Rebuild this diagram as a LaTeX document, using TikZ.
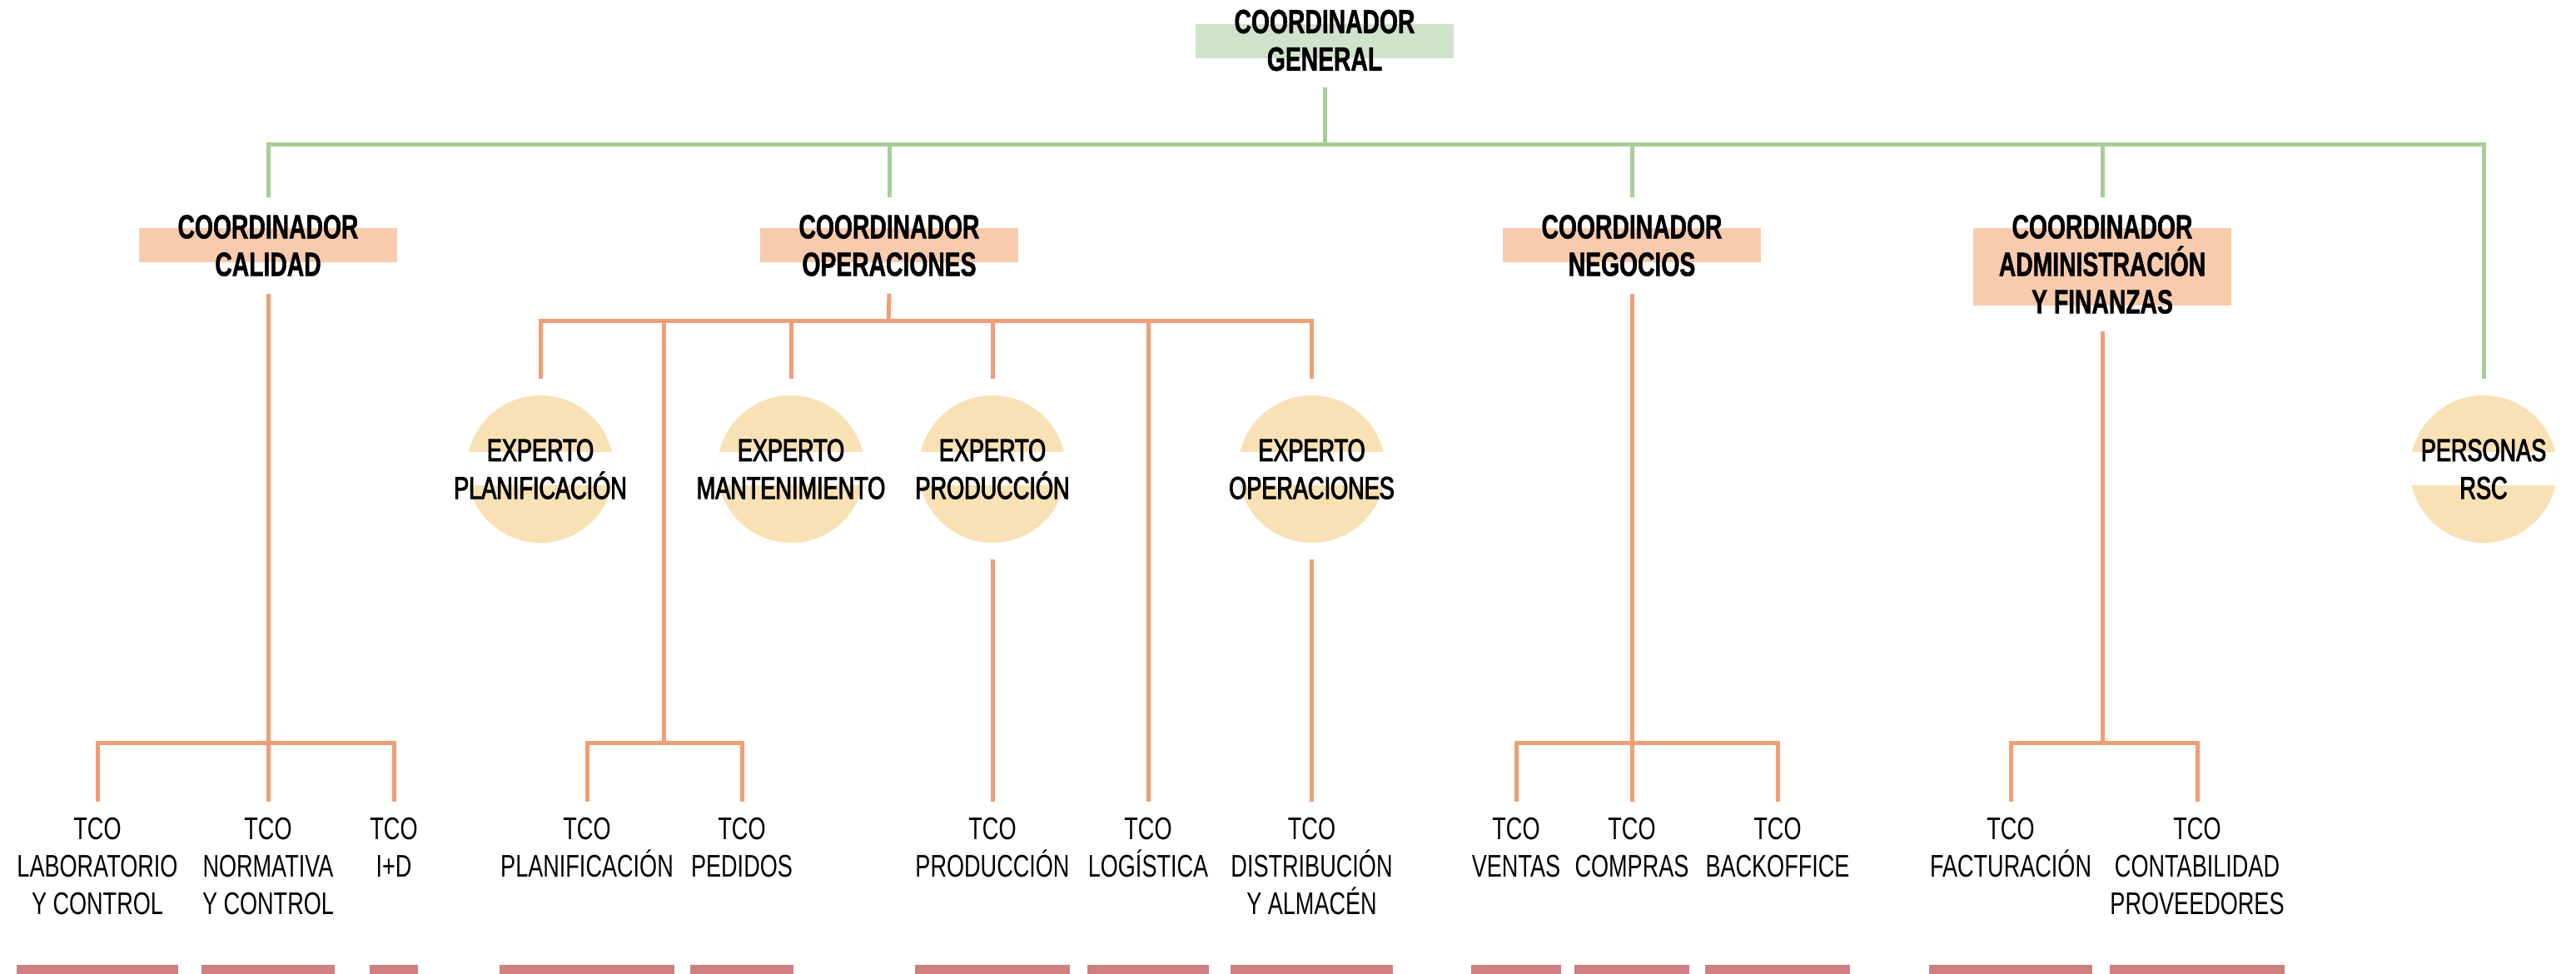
\documentclass[tikz,border=0pt]{standalone}
\usepackage{fontspec}
\usepackage{xcolor}
\usepackage{tikz}
\setmainfont{Liberation Sans}[FakeStretch=0.72]
\newfontfamily\cofont{Liberation Sans}[FakeStretch=0.70,FakeBold=1.2]
\newfontfamily\medfont{Liberation Sans}[FakeStretch=0.72,FakeBold=2.6]
\definecolor{lgreen}{RGB}{166,206,150}
\definecolor{boxgreen}{RGB}{207,227,203}
\definecolor{lorange}{RGB}{241,158,118}
\definecolor{boxorange}{RGB}{248,203,173}
\definecolor{circ}{RGB}{248,225,180}
\definecolor{barred}{RGB}{206,127,127}

\begin{document}
\begin{tikzpicture}[grl/.style={draw=lgreen, line width=0.05cm},
	orl/.style={draw=lorange, line width=0.05cm},
	cobox/.style={fill=boxorange, minimum width=3.1cm, minimum height=0.41cm, inner sep=0},
	cotext/.style={font=\cofont\bfseries\fontsize{11.5}{12.8}\selectfont, align=center, inner sep=0, minimum height=1.14cm},
	expert/.style={circle, fill=circ, minimum size=1.77cm, inner sep=0, outer sep=0.2cm,
		path picture={\fill[white] ([xshift=-1cm,yshift=0.205cm]path picture bounding box.center) rectangle ([xshift=1cm,yshift=-0.195cm]path picture bounding box.center);}},
	exptext/.style={font=\medfont\fontsize{10.7}{12.9}\selectfont, align=center, inner sep=0},
	tco/.style={font=\fontsize{10.7}{12.8}\selectfont, align=center, anchor=north, inner xsep=0, inner ysep=0.19cm}]
	\useasboundingbox (0,0) rectangle (30.94,-11.70);
	
	% Coordinadores
	\node[cobox, fill=boxgreen] (gen) at (15.91,-0.495) {};
	\node[cotext, minimum height=1.11cm] (gent) at (15.91,-0.485) {COORDINADOR\\GENERAL};
	
	\node[cobox] (cal) at (3.22,-2.945) {};
	\node[cotext] (calt) at (3.22,-2.95) {COORDINADOR\\CALIDAD};
	\node[cobox] (ope) at (10.68,-2.945) {};
	\node[cotext] (opet) at (10.68,-2.95) {COORDINADOR\\OPERACIONES};
	\node[cobox] (neg) at (19.60,-2.945) {};
	\node[cotext] (negt) at (19.60,-2.95) {COORDINADOR\\NEGOCIOS};
	\node[cobox, minimum height=0.93cm] (adm) at (25.25,-3.205) {};
	\node[cotext, minimum height=1.59cm] (admt) at (25.25,-3.175) {COORDINADOR\\ADMINISTRACIÓN\\Y FINANZAS};
	
	% Expertos
	\node[expert] (e1) at (6.49,-5.635) {};
	\node[exptext] (e1t) at (e1) {EXPERTO\\PLANIFICACIÓN};
	\node[expert] (e2) at (9.50,-5.635) {};
	\node[exptext] (e2t) at (e2) {EXPERTO\\MANTENIMIENTO};
	\node[expert] (e3) at (11.92,-5.635) {};
	\node[exptext] (e3t) at (e3) {EXPERTO\\PRODUCCIÓN};
	\node[expert] (e4) at (15.755,-5.635) {};
	\node[exptext] (e4t) at (e4) {EXPERTO\\OPERACIONES};
	\node[expert] (pers) at (29.83,-5.635) {};
	\node[exptext] (perst) at (pers) {PERSONAS\\RSC};
	
	% TCO
	\node[tco] (t1) at (1.17,-9.63) {TCO\\LABORATORIO\\Y CONTROL};
	\node[tco] (t2) at (3.22,-9.63) {TCO\\NORMATIVA\\Y CONTROL};
	\node[tco] (t3) at (4.73,-9.63) {TCO\\I+D};
	\node[tco] (t4) at (7.05,-9.63) {TCO\\PLANIFICACIÓN};
	\node[tco] (t5) at (8.91,-9.63) {TCO\\PEDIDOS};
	\node[tco] (t6) at (11.92,-9.63) {TCO\\PRODUCCIÓN};
	\node[tco] (t7) at (13.79,-9.63) {TCO\\LOGÍSTICA};
	\node[tco] (t8) at (15.755,-9.63) {TCO\\DISTRIBUCIÓN\\Y ALMACÉN};
	\node[tco] (t9) at (18.21,-9.63) {TCO\\VENTAS};
	\node[tco] (t10) at (19.60,-9.63) {TCO\\COMPRAS};
	\node[tco] (t11) at (21.35,-9.63) {TCO\\BACKOFFICE};
	\node[tco] (t12) at (24.15,-9.63) {TCO\\FACTURACIÓN};
	\node[tco] (t13) at (26.39,-9.63) {TCO\\CONTABILIDAD\\PROVEEDORES};
	
	% buses
	\coordinate (gbus) at (15.91,-1.74);
	\coordinate (obus) at (10.67,-3.86);
	\coordinate (cbus) at (3.22,-8.93);
	\coordinate (pbus) at (7.97,-8.93);
	\coordinate (nbus) at (19.60,-8.93);
	\coordinate (abus) at (25.27,-8.93);
	\coordinate (bartop) at (0,-11.59);
	\coordinate (barbot) at (0,-11.70);
	
	% green lines
	\draw[grl] (gent.south) -- (gbus);
	\draw[grl] (calt.north) |- (gbus) -| (pers.north);
	\draw[grl] (opet.north) -- (opet.north |- gbus);
	\draw[grl] (negt.north) -- (negt.north |- gbus);
	\draw[grl] (admt.north) -- (admt.north |- gbus);
	
	% orange lines
	\draw[orl] (calt.south) -- (cbus);
	\draw[orl] (t1.north) |- (cbus) -| (t3.north);
	\draw[orl] (cbus) -- (t2.north);
	
	\draw[orl] (opet.south) -- (obus);
	\draw[orl] (e1.north) |- (obus) -| (e4.north);
	\draw[orl] (e2.north) -- (e2.north |- obus);
	\draw[orl] (e3.north) -- (e3.north |- obus);
	\draw[orl] (pbus) -- (pbus |- obus);
	\draw[orl] (t4.north) |- (pbus) -| (t5.north);
	\draw[orl] (t7.north) -- (t7.north |- obus);
	\draw[orl] (e3.south) -- (t6.north);
	\draw[orl] (e4.south) -- (t8.north);
	
	\draw[orl] (negt.south) -- (nbus);
	\draw[orl] (t9.north) |- (nbus) -| (t11.north);
	\draw[orl] (nbus) -- (t10.north);
	
	\draw[orl] (admt.south) -- (admt.south |- abus);
	\draw[orl] (t12.north) |- (abus) -| (t13.north);
	
	% bars
	\foreach \t in {t1,t2,t3,t4,t5,t6,t7,t8,t9,t10,t11,t12,t13}
		\fill[barred] (\t.west |- bartop) rectangle (\t.east |- barbot);
\end{tikzpicture}
\end{document}
